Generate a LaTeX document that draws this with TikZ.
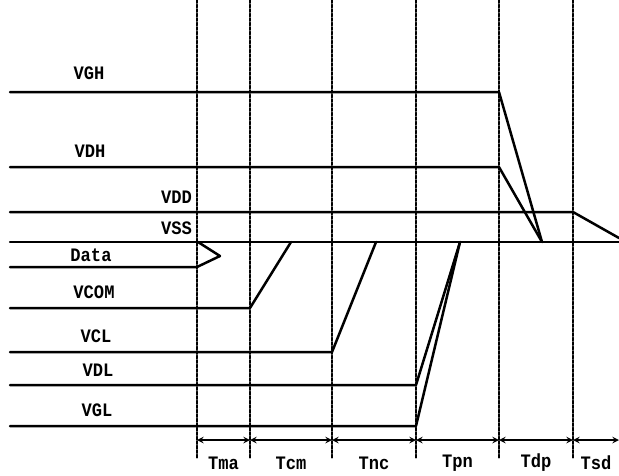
\documentclass[tikz,border=0pt]{standalone}
\usepackage{fontspec}
\setmainfont{Liberation Serif}
\setmonofont{Liberation Mono}
\tikzset{
  sig/.style={line width=2.5pt},
  tick/.style={line width=2pt, dash pattern=on 3pt off 1.5pt},
  dim/.style={<->, line width=1.9pt},
  lab/.style={font=\ttfamily\bfseries\fontsize{19}{21}\selectfont, xscale=0.9, inner sep=0pt}
}
\begin{document}
\begin{tikzpicture}[x=1pt, y=-1pt, line join=round, line cap=round, >=stealth]
\useasboundingbox (0,0) rectangle (619,475);
% dashed time marks
\foreach \n/\x in {a/197,b/250,c/332,d/416,e/499,f/573}{
  \coordinate (top\n) at (\x,0);
  \coordinate (bot\n) at (\x,458);
  \coordinate (dim\n) at (\x,440);
  \draw[tick] (top\n)--(bot\n);
}
\coordinate (dimg) at (619,440);
% periods
\foreach \p/\q/\t in {a/b/Tma,b/c/Tcm,c/d/Tnc,d/e/Tpn,e/f/Tdp,f/g/Tsd}
  \draw[dim] (dim\p)--(dim\q) node[lab, midway, yshift=-23pt]{\t};
% rails
\coordinate (ssL) at (10,242);
\coordinate (ssR) at (619,242);
\coordinate (hifall) at (542,242);
\coordinate (ddfall) at (619,238);
\draw[sig] (ssL)--(ssR);
\draw[sig] (10,92)coordinate(ghL)--(499,92)coordinate(ghR)--(hifall);
\draw[sig] (10,167)coordinate(dhL)--(499,167)coordinate(dhR)--(hifall);
\draw[sig] (10,212)coordinate(ddL)--(573,212)coordinate(ddR)--(ddfall);
\draw[sig] (10,267)coordinate(daL)--(197,267)coordinate(daR)--(220,256)coordinate(datip)--(198,242);
\draw[sig] (10,308)coordinate(comL)--(250,308)coordinate(comR)--(291,242);
\draw[sig] (10,352)coordinate(clL)--(332,352)coordinate(clR)--(376,242);
\draw[sig] (10,385)coordinate(dlL)--(416,385)coordinate(dlR)--(460,242)coordinate(rise);
\draw[sig] (10,426)coordinate(glL)--(416,426)coordinate(glR)--(rise);
% names
\node[lab] (vgh) at (89,73) {VGH};
\node[lab] (vdh) at (90,151) {VDH};
\node[lab, anchor=east] (vdd) at (192,197) {VDD};
\node[lab, anchor=east] (vss) at (192,228) {VSS};
\node[lab] (data) at (91,255) {Data};
\node[lab] (vcom) at (94,292) {VCOM};
\node[lab] (vcl) at (96,336) {VCL};
\node[lab] (vdl) at (98,370) {VDL};
\node[lab] (vgl) at (97,410) {VGL};
\end{tikzpicture}
\end{document}
